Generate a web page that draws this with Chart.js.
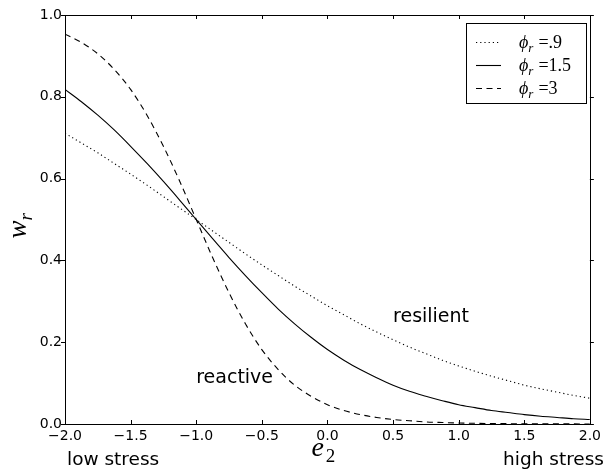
<!DOCTYPE html>
<html>
<head>
<meta charset="utf-8">
<script src="https://cdn.jsdelivr.net/npm/chart.js@4.4.1/dist/chart.umd.min.js"></script>
<style>
  html, body { margin: 0; padding: 0; background: #fff; }
  #wrap { width: 605px; height: 471px; position: relative; }
</style>
</head>
<body>
<div id="wrap"><canvas id="c" width="605" height="471"></canvas></div>
<script>
// stress index e2
const e2 = [-2.0, -1.875, -1.75, -1.625, -1.5, -1.375, -1.25, -1.125, -1.0,
            -0.875, -0.75, -0.625, -0.5, -0.375, -0.25, -0.125, 0.0,
            0.125, 0.25, 0.375, 0.5, 0.625, 0.75, 0.875, 1.0,
            1.125, 1.25, 1.375, 1.5, 1.625, 1.75, 1.875, 2.0];
// resilience weight w_r for three phi_r values
const wPhi09 = [0.711, 0.687, 0.663, 0.637, 0.611, 0.584, 0.556, 0.528, 0.500,
                0.472, 0.444, 0.416, 0.389, 0.363, 0.337, 0.313, 0.289,
                0.267, 0.245, 0.225, 0.206, 0.188, 0.172, 0.156, 0.142,
                0.129, 0.117, 0.106, 0.095, 0.086, 0.078, 0.070, 0.063];
const wPhi15 = [0.818, 0.788, 0.755, 0.719, 0.679, 0.637, 0.593, 0.547, 0.500,
                0.453, 0.407, 0.363, 0.321, 0.281, 0.245, 0.212, 0.182,
                0.156, 0.133, 0.113, 0.095, 0.080, 0.068, 0.057, 0.047,
                0.040, 0.033, 0.028, 0.023, 0.019, 0.016, 0.013, 0.011];
const wPhi3  = [0.953, 0.933, 0.905, 0.867, 0.818, 0.755, 0.679, 0.593, 0.500,
                0.407, 0.321, 0.245, 0.182, 0.133, 0.095, 0.068, 0.047,
                0.033, 0.023, 0.016, 0.011, 0.008, 0.005, 0.0036, 0.0025,
                0.0017, 0.0012, 0.0008, 0.0006, 0.0004, 0.0003, 0.0002, 0.0001];
const xTicks = [-2.0, -1.5, -1.0, -0.5, 0.0, 0.5, 1.0, 1.5, 2.0];
const yTicks = [0.0, 0.2, 0.4, 0.6, 0.8, 1.0];
const legendPhi = ['.9', '1.5', '3'];

const pts = ys => e2.map((x, i) => ({ x: x, y: ys[i] }));
const fmt = v => (v < 0 ? '\u2212' : '') + Math.abs(v).toFixed(1);

const SANS = '"DejaVu Sans", sans-serif';
const SERIF = '"Liberation Serif", "DejaVu Serif", serif';

const lineStyle = {
  borderColor: '#000', borderWidth: 1.1, pointRadius: 0,
  cubicInterpolationMode: 'monotone', fill: false
};

const dashes = [[1.2, 3], [], [6, 4.5]];

// draw math-style text: base glyph(s), subscript, then trailing text
function mathText(ctx, x, y, base, sub, rest, size) {
  ctx.save();
  ctx.textAlign = 'left';
  ctx.textBaseline = 'alphabetic';
  ctx.fillStyle = '#000';
  ctx.font = 'italic ' + size + 'px ' + SERIF;
  ctx.fillText(base, x, y);
  x += ctx.measureText(base).width;
  if (sub) {
    const s = sub.size || size * 0.7;
    ctx.font = (sub.italic ? 'italic ' : '') + s + 'px ' + SERIF;
    ctx.fillText(sub.text, x + (sub.dx || 0), y + size * 0.22);
    x += ctx.measureText(sub.text).width + (sub.dx || 0);
  }
  if (rest) {
    ctx.font = size + 'px ' + SERIF;
    ctx.fillText(rest, x + 5, y);
  }
  ctx.restore();
}

const decor = {
  id: 'decor',
  afterDraw(chart) {
    const ctx = chart.ctx;
    const a = chart.chartArea;
    const xs = chart.scales.x, ys = chart.scales.y;
    ctx.save();
    // frame
    ctx.strokeStyle = '#000';
    ctx.lineWidth = 1;
    ctx.strokeRect(Math.round(a.left) + 0.5, Math.round(a.top) + 0.5,
                   Math.round(a.right - a.left), Math.round(a.bottom - a.top));
    // tick marks: x ticks inward top and bottom, y ticks outward both sides
    ctx.beginPath();
    xTicks.forEach(v => {
      const px = Math.round(xs.getPixelForValue(v)) + 0.5;
      ctx.moveTo(px, a.bottom); ctx.lineTo(px, a.bottom - 4);
      ctx.moveTo(px, a.top); ctx.lineTo(px, a.top + 4);
    });
    yTicks.forEach(v => {
      const py = Math.round(ys.getPixelForValue(v)) + 0.5;
      ctx.moveTo(a.left, py); ctx.lineTo(a.left - 4, py);
      ctx.moveTo(a.right, py); ctx.lineTo(a.right + 4, py);
    });
    ctx.stroke();

    // annotations
    ctx.fillStyle = '#000';
    ctx.font = '19px ' + SANS;
    ctx.textAlign = 'left';
    ctx.textBaseline = 'middle';
    ctx.fillText('resilient', xs.getPixelForValue(0.5), ys.getPixelForValue(0.262));
    ctx.fillText('reactive', xs.getPixelForValue(-1.0), ys.getPixelForValue(0.113));

    // under-axis labels
    ctx.font = '18.5px ' + SANS;
    ctx.textBaseline = 'alphabetic';
    ctx.fillText('low stress', 67, 465);
    ctx.textAlign = 'right';
    ctx.fillText('high stress', 604, 465);

    // axis titles
    const cx = xs.getPixelForValue(0);
    mathText(ctx, cx - 16, 456, 'e', { text: '2', italic: false, size: 19, dx: 2 }, null, 28);
    ctx.save();
    ctx.translate(26, (a.top + a.bottom) / 2 + 19);
    ctx.rotate(-Math.PI / 2);
    mathText(ctx, 0, 0, 'w', { text: 'r', italic: true, size: 19, dx: 0 }, null, 27);
    ctx.restore();

    // legend
    const L = 466, T = 23, R = 586, B = 103;
    ctx.fillStyle = '#fff';
    ctx.fillRect(L, T, R - L, B - T);
    ctx.strokeStyle = '#000';
    ctx.lineWidth = 1;
    ctx.strokeRect(L + 0.5, T + 0.5, R - L, B - T);
    const rows = [42, 65, 88];
    rows.forEach((ry, i) => {
      ctx.save();
      ctx.setLineDash(dashes[i]);
      ctx.lineWidth = 1.1;
      ctx.beginPath();
      ctx.moveTo(476, ry + 0.5); ctx.lineTo(501, ry + 0.5);
      ctx.stroke();
      ctx.restore();
      mathText(ctx, 519, ry + 6, '\u03D5', { text: 'r', italic: true, size: 13, dx: 0 },
               '=' + legendPhi[i], 18);
    });
    ctx.restore();
  }
};

new Chart(document.getElementById('c'), {
  type: 'line',
  data: {
    datasets: [
      Object.assign({ label: 'phi_r = .9', data: pts(wPhi09), borderDash: dashes[0] }, lineStyle),
      Object.assign({ label: 'phi_r = 1.5', data: pts(wPhi15), borderDash: dashes[1] }, lineStyle),
      Object.assign({ label: 'phi_r = 3', data: pts(wPhi3), borderDash: dashes[2] }, lineStyle)
    ]
  },
  options: {
    responsive: false,
    animation: false,
    devicePixelRatio: 1,
    layout: { padding: { top: 15, right: 12, left: 0, bottom: 0 } },
    plugins: { legend: { display: false }, tooltip: { enabled: false } },
    scales: {
      x: {
        type: 'linear', min: -2, max: 2,
        afterFit: s => { s.height = 47; },
        afterBuildTicks: s => { s.ticks = xTicks.map(v => ({ value: v })); },
        grid: { display: false, drawTicks: false },
        border: { display: false },
        ticks: { color: '#000', padding: 4, font: { family: SANS, size: 14 },
                 maxRotation: 0, autoSkip: false, callback: v => fmt(v) }
      },
      y: {
        type: 'linear', min: 0, max: 1,
        afterFit: s => { s.width = 65; },
        afterBuildTicks: s => { s.ticks = yTicks.map(v => ({ value: v })); },
        grid: { display: false, drawTicks: false },
        border: { display: false },
        ticks: { color: '#000', padding: 3, font: { family: SANS, size: 14 },
                 callback: v => fmt(v) }
      }
    }
  },
  plugins: [decor]
});
</script>
</body>
</html>
